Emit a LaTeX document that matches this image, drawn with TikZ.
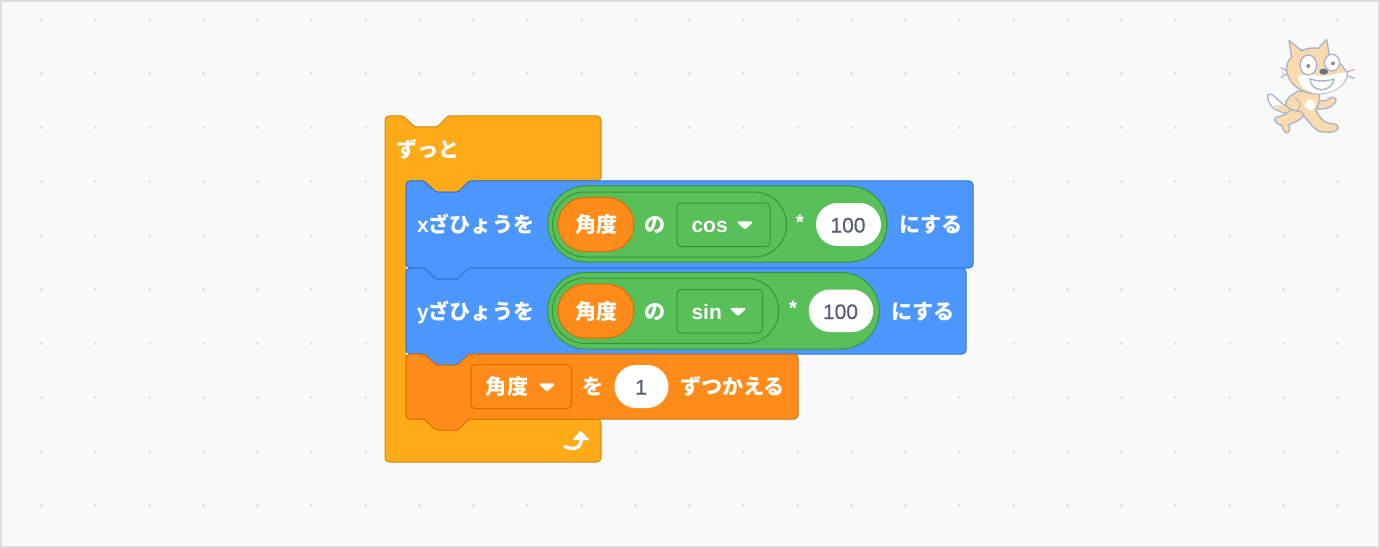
\documentclass[tikz,border=0pt]{standalone}
\usepackage{fontspec}
\setmainfont{Liberation Sans}
\newfontfamily\cjk{Noto Sans CJK JP}
\newfontfamily\numf{Liberation Sans}[FakeBold=0.3]
\definecolor{bgc}{HTML}{F9F9F9}
\definecolor{edgec}{HTML}{DDDDDD}
\definecolor{dotc}{HTML}{D9D9D9}
\definecolor{ctrl}{HTML}{FFAB19}
\definecolor{ctrlL}{HTML}{CF8B17}
\definecolor{motion}{HTML}{4C97FF}
\definecolor{motionL}{HTML}{3373CC}
\definecolor{oper}{HTML}{59C059}
\definecolor{operL}{HTML}{389438}
\definecolor{vari}{HTML}{FF8C1A}
\definecolor{variL}{HTML}{DB6E00}
\definecolor{numc}{HTML}{575E75}
\definecolor{catf}{HTML}{FBDBAE}
\definecolor{catl}{HTML}{A9B6CB}
\tikzset{
  x=1pt,y=-1pt,
  blockpath/.style={line width=1pt,rounded corners=4pt,line join=round},
  ctrlblock/.style={blockpath,fill=ctrl,draw=ctrlL},
  motionblock/.style={blockpath,fill=motion,draw=motionL},
  variblock/.style={blockpath,fill=vari,draw=variL},
  opblock/.style={line width=1pt,fill=oper,draw=operL},
  innerpill/.style={line width=1pt,draw=operL,fill=none},
  pillvar/.style={line width=1pt,fill=vari,draw=variL},
  pillnum/.style={line width=1pt,fill=white,draw=none},
  ddgreen/.style={line width=1pt,draw=operL,fill=oper,rounded corners=4pt},
  ddorange/.style={line width=1pt,draw=variL,fill=vari,rounded corners=4pt},
  lab/.style={inner sep=0pt,outer sep=0pt,text=white,font=\fontsize{21.1}{22}\selectfont\cjk\bfseries,text height=16pt,text depth=0pt},
  latin/.style={inner sep=0pt,outer sep=0pt,text=white,font=\fontsize{21}{22}\selectfont\bfseries,text height=16pt,text depth=0pt},
  num/.style={inner sep=0pt,outer sep=0pt,text=numc,font=\fontsize{21}{22}\selectfont\numf,text height=16pt,text depth=0pt},
  tri/.style={fill=white,draw=white,line width=2.4pt,line join=round},
  catline/.style={draw=catl,line width=1.4pt,line join=round},
  speck/.style={fill=white},
}
% notch: left x, right end of the shape drawn in the block's own corner style
\newcommand{\notchR}[2]{[rounded corners=1.5pt] -- ({#1+18},#2) -- ({#1+30},{#2+11}) -- ({#1+52},{#2+11}) -- ({#1+63},#2) [rounded corners=4pt]}
\newcommand{\notchL}[2]{[rounded corners=1.5pt] -- ({#1+63},#2) -- ({#1+52},{#2+11}) -- ({#1+30},{#2+11}) -- ({#1+18},#2) [rounded corners=4pt]}
\begin{document}
\begin{tikzpicture}
\useasboundingbox (0,0) rectangle (1380,548);
\fill[edgec] (0,0) rectangle (1380,548);
\fill[bgc] (2,2) rectangle (1378,546);
\foreach \i in {0,...,24}{\foreach \j in {0,...,9}{
  \fill[dotc] ({41.5+54*\i},{19.5+54*\j}) circle (1.4);
}}
% forever block
\draw[ctrlblock] (394,116) \notchR{385}{116} -- (601,116) -- (601,181) \notchL{406}{181} -- (406,181) -- (406,419) -- (601,419) -- (601,462) -- (385,462) -- (385,116) -- cycle;
\node[lab,anchor=west] (forever) at (396,150) {ずっと};
% arrow icon
\draw[white,line width=3.4pt,line cap=round] (565,446.5) .. controls (572,450) and (581,450) .. (581.5,438);
\fill[white,rounded corners=0.8pt] (580.5,430.5) -- (589.5,440) -- (572.5,440) -- cycle;
% x block
\draw[motionblock] (415,181) \notchR{406}{181} -- (973,181) -- (973,268) \notchL{406}{268} -- (406,268) -- (406,181) -- cycle;
\node[lab,anchor=west] (xlab) at (417,224.5) {{\fontspec{Liberation Sans}\bfseries x}ざひょうを};
\draw[opblock] (586,186) -- (849,186) arc[start angle=-90,end angle=90,radius=38] -- (586,262) arc[start angle=90,end angle=270,radius=38] -- cycle;
\draw[innerpill] (585,192) -- (754,192) arc[start angle=-90,end angle=90,radius=32.5] -- (585,257) arc[start angle=90,end angle=270,radius=32.5] -- cycle;
\draw[pillvar] (585,197.5) -- (607,197.5) arc[start angle=-90,end angle=90,radius=27] -- (585,251.5) arc[start angle=90,end angle=270,radius=27] -- cycle;
\node[lab,anchor=center] (xangle) at (596.5,224.5) {角度};
\node[lab,anchor=center] (xno) at (655,224.5) {の};
\draw[ddgreen] (677,203) rectangle (770,246.5);
\node[latin,anchor=west] (cosv) at (691.5,224.5) {cos};
\draw[tri] (739,222.5) -- (751,222.5) -- (745,228) -- cycle;
\node[latin,anchor=center] (xstar) at (800,221) {*};
\fill[pillnum] (837.5,203) -- (859.5,203) arc[start angle=-90,end angle=90,radius=21.5] -- (837.5,246) arc[start angle=90,end angle=270,radius=21.5] -- cycle;
\node[num,anchor=center] (xnum) at (848,224.5) {100};
\node[lab,anchor=west] (xsuru) at (899,224.5) {にする};
% y block
\draw[motionblock] (415,268) \notchR{406}{268} -- (966,268) -- (966,354) \notchL{406}{354} -- (406,354) -- (406,268) -- cycle;
\node[lab,anchor=west] (ylab) at (417,311) {{\fontspec{Liberation Sans}\bfseries y}ざひょうを};
\draw[opblock] (586,272.5) -- (841,272.5) arc[start angle=-90,end angle=90,radius=38.25] -- (586,349) arc[start angle=90,end angle=270,radius=38.25] -- cycle;
\draw[innerpill] (585,278) -- (746,278) arc[start angle=-90,end angle=90,radius=32.7] -- (585,343.4) arc[start angle=90,end angle=270,radius=32.7] -- cycle;
\draw[pillvar] (585,284) -- (607,284) arc[start angle=-90,end angle=90,radius=27] -- (585,338) arc[start angle=90,end angle=270,radius=27] -- cycle;
\node[lab,anchor=center] (yangle) at (596.5,311) {角度};
\node[lab,anchor=center] (yno) at (655,311) {の};
\draw[ddgreen] (677,289.5) rectangle (762.5,333);
\node[latin,anchor=west] (sinv) at (691.5,311) {sin};
\draw[tri] (732,309) -- (744,309) -- (738,314.5) -- cycle;
\node[latin,anchor=center] (ystar) at (793,307.5) {*};
\fill[pillnum] (830,289.5) -- (852,289.5) arc[start angle=-90,end angle=90,radius=21.25] -- (830,332) arc[start angle=90,end angle=270,radius=21.25] -- cycle;
\node[num,anchor=center] (ynum) at (840.5,311) {100};
\node[lab,anchor=west] (ysuru) at (891,311) {にする};
% change var block
\draw[variblock] (415,354) \notchR{406}{354} -- (798,354) -- (798,419) \notchL{406}{419} -- (406,419) -- (406,354) -- cycle;
\draw[ddorange] (471,364.5) rectangle (571.5,408.5);
\node[lab,anchor=center] (cvar) at (507,386.5) {角度};
\draw[tri] (541,384.5) -- (553,384.5) -- (547,390) -- cycle;
\node[lab,anchor=center] (cwo) at (593,386.5) {を};
\fill[pillnum] (636,365) -- (647,365) arc[start angle=-90,end angle=90,radius=21.5] -- (636,408) arc[start angle=90,end angle=270,radius=21.5] -- cycle;
\node[num,anchor=center] (cnum) at (641,386.5) {1};
\node[lab,anchor=west] (czu) at (680,386.5) {ずつかえる};
% junction specks
\fill[speck] (407,267.6) circle (1);
\fill[speck] (407,353.6) circle (1);
% cat
\begin{scope}[shift={(1255,30)},x=0.3333pt,y=-0.3333pt]
  % tail
  \draw[catline,fill=white] (38,197) .. controls (38,220) and (50,236) .. (72,243) .. controls (85,250) and (100,252) .. (108,245) -- (100,232) .. controls (85,228) and (70,208) .. (50,194) .. controls (44,192) and (39,193) .. (38,197) -- cycle;
  \fill[catf] (55,228) .. controls (65,224) and (80,224) .. (100,233) -- (107,245) .. controls (95,250) and (70,245) .. (55,228) -- cycle;
  % far arm
  \draw[catline,fill=catf] (178,203) .. controls (195,215) and (210,218) .. (226,204) .. controls (238,198) and (246,208) .. (242,216) .. controls (228,236) and (200,243) .. (172,232) -- cycle;
  % rear leg
  \draw[catline,fill=catf] (118,228) .. controls (105,248) and (85,258) .. (62,262) .. controls (55,270) and (62,282) .. (80,286) .. controls (84,296) and (88,310) .. (96,309) .. controls (106,304) and (105,292) .. (100,284) .. controls (125,276) and (145,265) .. (158,242) -- cycle;
  % body and front leg
  \draw[catline,fill=catf] (130,183) .. controls (108,195) and (88,212) .. (92,226) .. controls (100,240) and (122,242) .. (138,245) .. controls (148,258) and (170,292) .. (192,304) .. controls (212,308) and (240,308) .. (249,298) .. controls (253,285) and (240,280) .. (222,280) .. controls (205,278) and (195,262) .. (182,240) .. controls (192,225) and (198,205) .. (190,185) -- cycle;
  \fill[white] (165,208) .. controls (182,212) and (187,225) .. (172,242) .. controls (160,242) and (152,234) .. (148,226) .. controls (152,215) and (158,210) .. (165,208) -- cycle;
  \draw[catl,line width=1pt] (120,203) .. controls (138,215) and (142,228) .. (125,242);
  % whiskers
  \draw[catl,line width=1.2pt] (100,125) -- (77,113) (100,130) -- (77,142) (270,127) -- (299,118) (272,135) -- (299,146);
  % head
  \draw[catline,fill=catf] (102,32) -- (140,62) .. controls (155,55) and (175,52) .. (190,55) -- (215,28) -- (222,72) .. controls (245,85) and (265,110) .. (277,130) .. controls (278,160) and (240,190) .. (190,192) .. controls (145,192) and (105,170) .. (95,125) .. controls (92,105) and (100,90) .. (110,82) -- cycle;
  \fill[white] (128,140) .. controls (150,130) and (180,135) .. (205,138) .. controls (225,140) and (255,125) .. (275,128) .. controls (278,160) and (240,190) .. (190,191) .. controls (160,190) and (130,170) .. (128,140) -- cycle;
  % eyes
  \draw[catline,fill=white] (160,105) ellipse [x radius=25,y radius=30];
  \draw[catline,fill=white] (231,98) ellipse [x radius=23,y radius=25];
  \fill[numc!70!white] (160,108) circle (6);
  \fill[numc!70!white] (234,100) circle (6);
  % nose
  \fill[numc!80!catl] (206,125) ellipse [x radius=13,y radius=9];
  % mouth
  \draw[catline,fill=white] (165,146) .. controls (185,155) and (215,155) .. (237,147) .. controls (235,168) and (215,180) .. (198,179) .. controls (180,178) and (165,165) .. (165,146) -- cycle;
\end{scope}
\end{tikzpicture}
\end{document}
